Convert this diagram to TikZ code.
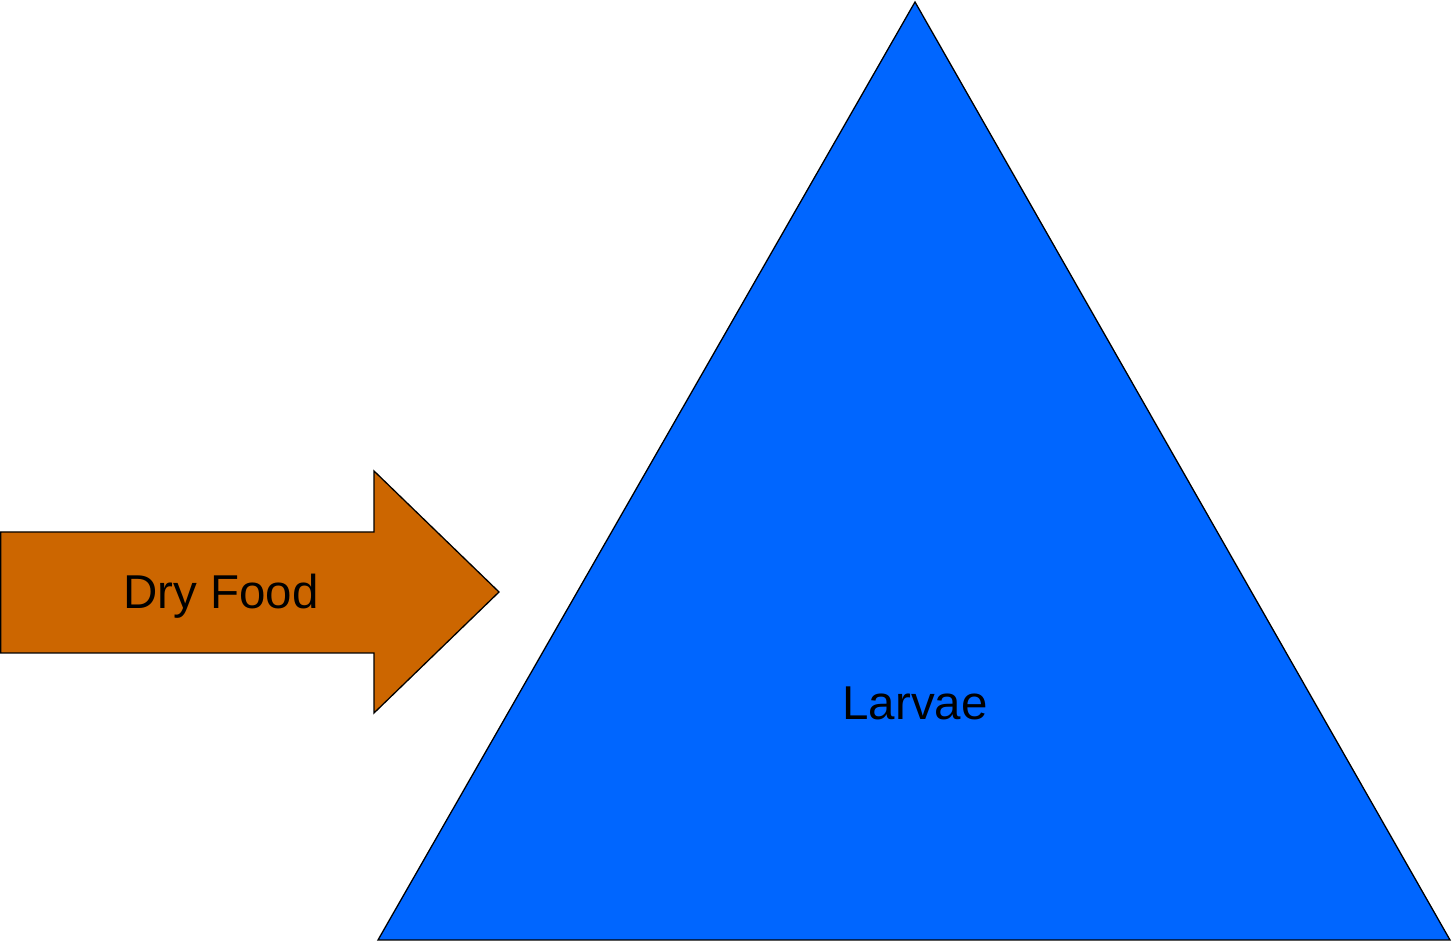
\documentclass[tikz,border=0pt]{standalone}
\usepackage{fontspec}
\setmainfont{Liberation Sans}
\definecolor{larvaeblue}{HTML}{0066FF}
\definecolor{foodorange}{HTML}{CC6600}
\begin{document}
\begin{tikzpicture}[x=1pt,y=1pt,
  shapeline/.style={draw=black,line width=1.3pt,line join=miter},
  label/.style={font=\fontsize{47.5}{57}\selectfont,text=black,inner sep=0pt}]
\useasboundingbox (0,0) rectangle (1452,943);
% pyramid
\coordinate (apex) at (915,941);
\coordinate (bl) at (378,3);
\coordinate (br) at (1450,3);
\filldraw[shapeline,fill=larvaeblue] (apex) -- (br) -- (bl) -- cycle;
\node[label] (larvae) at (915,240) {Larvae};
% block arrow
\filldraw[shapeline,fill=foodorange]
  (0.6,411) -- (374,411) -- (374,472) -- (499,351) -- (374,230)
  -- (374,290) -- (0.6,290) -- cycle;
\node[label] (food) at (221,347) {Dry Food};
\end{tikzpicture}
\end{document}
